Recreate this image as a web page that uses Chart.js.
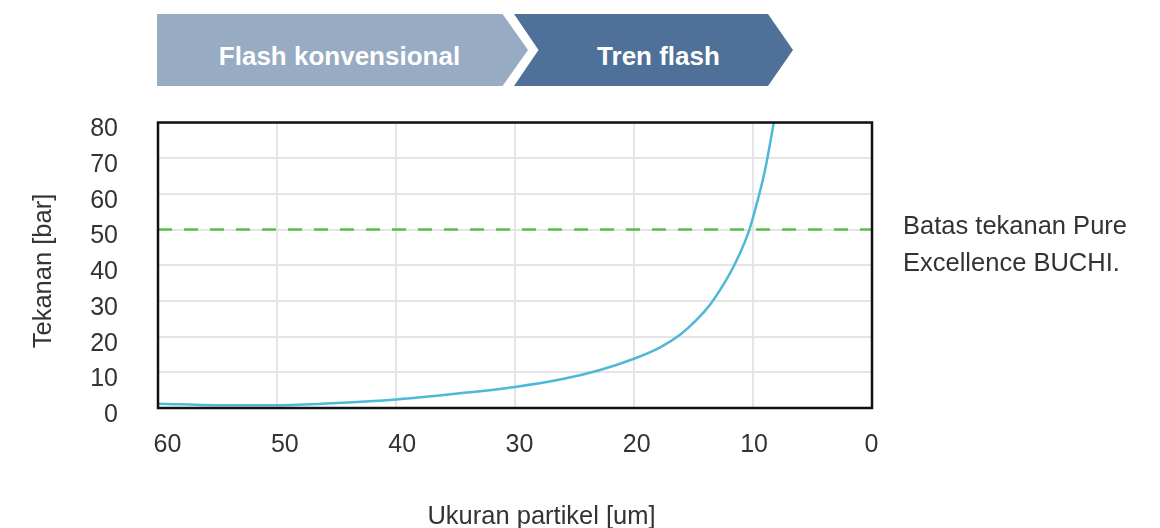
<!DOCTYPE html>
<html><head><meta charset="utf-8">
<script src="https://cdn.jsdelivr.net/npm/chart.js@4"></script>
<style>
html,body{margin:0;padding:0;background:#fff;}
#wrap{position:relative;width:1160px;height:528px;font-family:"Liberation Sans",Arial,sans-serif;overflow:hidden;}
#chart{position:absolute;left:0;top:0;}
.chev{position:absolute;top:14px;height:72px;}
#c1{left:157px;width:371px;background:#97abc2;clip-path:polygon(0 0,345.5px 0,371px 36px,345.5px 72px,0 72px);}
#c2{left:514px;width:279px;background:#4f7098;clip-path:polygon(0 0,254px 0,279px 36px,254px 72px,0 72px,24.5px 36px);}
.ctext{position:absolute;top:36px;height:40px;line-height:40px;width:400px;text-align:center;color:#fff;font-weight:bold;font-size:26px;white-space:nowrap;}
#t1{left:139.5px;}
#t2{left:458.5px;}
#note{position:absolute;left:903px;top:206.5px;font-size:25.5px;line-height:37px;color:#333;white-space:nowrap;}
#xtitle{position:absolute;left:341.5px;width:400px;text-align:center;top:497px;line-height:36px;font-size:25.5px;color:#333;white-space:nowrap;}
#ytitle{position:absolute;left:-108.5px;top:252.5px;width:300px;height:36px;line-height:36px;text-align:center;font-size:25.5px;color:#333;white-space:nowrap;transform:rotate(-90deg);}
</style>
</head><body>
<div id="wrap">
  <div class="chev" id="c1"></div>
  <div class="chev" id="c2"></div>
  <div class="ctext" id="t1">Flash konvensional</div>
  <div class="ctext" id="t2">Tren flash</div>
  <canvas id="chart" width="1160" height="528"></canvas>
  <div id="note">Batas tekanan Pure<br>Excellence BUCHI.</div>
  <div id="ytitle">Tekanan [bar]</div>
  <div id="xtitle">Ukuran partikel [um]</div>
</div>
<script>
// Data
const particleSize = [60, 55, 50, 45, 40, 35, 30, 26, 23, 20, 17.8, 16.1, 14.7, 13.6, 12.5, 11.4, 10.3, 9.6, 9.0, 8.6, 8.25];
const pressure     = [1.2, 0.8, 0.8, 1.4, 2.4, 4.0, 5.9, 8.1, 10.5, 13.8, 17.0, 20.6, 24.8, 29.0, 34.5, 41.2, 50.0, 58.3, 66.5, 73.5, 80];
const limitSize = [60, 0];
const limitPressure = [50, 50];
const xTickValues = [0, 10, 20, 30, 40, 50, 60];
const yTickValues = [0, 10, 20, 30, 40, 50, 60, 70, 80];

const curveData = particleSize.map((x, i) => ({x: x, y: pressure[i]}));
const limitData = limitSize.map((x, i) => ({x: x, y: limitPressure[i]}));

const frame = {
  id: 'frame',
  afterDraw(chart) {
    const a = chart.chartArea, ctx = chart.ctx;
    ctx.save();
    ctx.strokeStyle = '#111';
    ctx.lineWidth = 2.5;
    ctx.strokeRect(a.left, a.top, a.right - a.left, a.bottom - a.top);
    ctx.restore();
  }
};

const tickFont = {family: '"Liberation Sans", Arial, sans-serif', size: 25};

new Chart(document.getElementById('chart'), {
  type: 'line',
  data: {
    datasets: [
      {data: limitData, borderColor: '#5bbd4b', borderWidth: 2.5, borderDash: [14, 12], pointRadius: 0, fill: false},
      {data: curveData, borderColor: '#4db9d6', borderWidth: 2.5, pointRadius: 0, fill: false, cubicInterpolationMode: 'monotone'}
    ]
  },
  plugins: [frame],
  options: {
    responsive: false,
    devicePixelRatio: 1,
    animation: false,
    layout: {padding: {top: 122.5, right: 288, left: 0, bottom: 0}},
    plugins: {legend: {display: false}, tooltip: {enabled: false}},
    scales: {
      x: {
        type: 'linear', min: 0, max: 60, reverse: true, position: 'bottom',
        afterBuildTicks: s => { s.ticks = xTickValues.map(v => ({value: v})); },
        afterFit: s => { s.height = 0; },
        ticks: {display: false},
        grid: {color: '#e5e5e5', lineWidth: 2, drawTicks: false},
        border: {display: false}
      },
      xLabels: {
        type: 'linear', min: -0.05, max: 60.81, reverse: true, position: 'bottom',
        afterBuildTicks: s => { s.ticks = xTickValues.map(v => ({value: v})); },
        afterFit: s => { s.height = 120; },
        ticks: {font: tickFont, color: '#333', padding: 22},
        grid: {display: false, drawTicks: false},
        border: {display: false}
      },
      y: {
        min: 0, max: 80,
        afterBuildTicks: s => { s.ticks = yTickValues.map(v => ({value: v})); },
        afterFit: s => { s.width = 158; },
        ticks: {font: tickFont, color: '#333', padding: 40, labelOffset: 7},
        grid: {color: '#e5e5e5', lineWidth: 2, drawTicks: false},
        border: {display: false}
      }
    }
  }
});
</script>
</body></html>
